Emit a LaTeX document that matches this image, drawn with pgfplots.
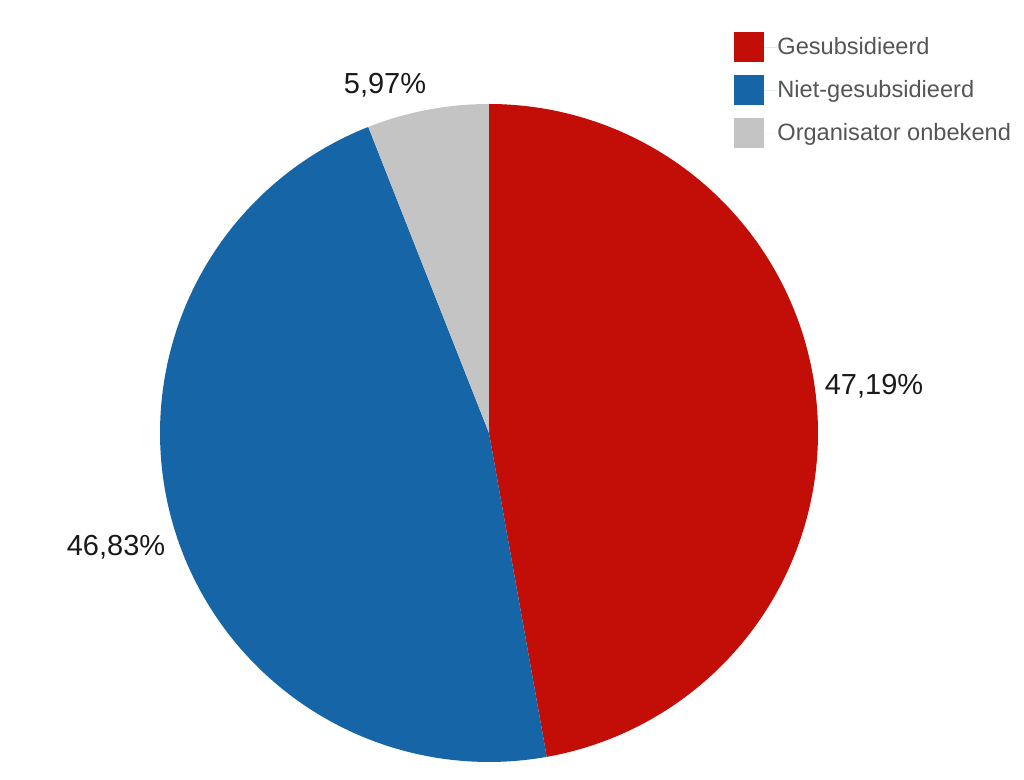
\documentclass[border=0pt]{standalone}
\usepackage{pgfplots}
\pgfplotsset{compat=1.18}
\usepackage{fontspec}
\setmainfont{Liberation Sans}
\definecolor{pred}{HTML}{C20E06}
\definecolor{pblue}{HTML}{1565A7}
\definecolor{pgrey}{HTML}{C4C4C4}
\definecolor{ltext}{HTML}{555555}
\def\vA{47.19}\def\vB{46.83}\def\vC{5.97}
\pgfmathsetmacro\aA{90}
\pgfmathsetmacro\aB{90-3.6*\vA}
\pgfmathsetmacro\aC{\aB-3.6*\vB}
\pgfmathsetmacro\aD{\aC-3.6*\vC}
\begin{document}
\begin{tikzpicture}
\begin{axis}[
  x=0.5pt, y=0.5pt, xmin=0, xmax=1024, ymin=0, ymax=780,
  hide axis, clip=false, scale only axis,
  legend style={at={(axis cs:734,748)}, anchor=north west, draw=none, fill=none,
    font=\fontsize{11.8}{14}\selectfont, text=ltext, row sep=6.5pt, inner sep=0pt,
    nodes={inner sep=0pt, anchor=west}},
  legend cell align=left,
  legend image code/.code={\fill[#1] (0pt,-7.5pt) rectangle (15pt,7.5pt);
    \path (0pt,0pt) -- (21.5pt,0pt);},
]
\path (rel axis cs:0,0) rectangle (rel axis cs:1,1);
\addplot[fill=pred, draw=none, domain=\aB:\aA, samples=150, variable=\t]
  ({489+329*cos(t)},{347+329*sin(t)}) -- (axis cs:489,347) -- cycle;
\addlegendentry{Gesubsidieerd}
\addplot[fill=pblue, draw=none, domain=\aC:\aB, samples=150, variable=\t]
  ({489+329*cos(t)},{347+329*sin(t)}) -- (axis cs:489,347) -- cycle;
\addlegendentry{Niet-gesubsidieerd}
\addplot[fill=pgrey, draw=none, domain=\aD:\aC, samples=40, variable=\t]
  ({489+329*cos(t)},{347+329*sin(t)}) -- (axis cs:489,347) -- cycle;
\addlegendentry{Organisator onbekend}
\node[font=\fontsize{14.5}{17}\selectfont, text=black!90] at (axis cs:874,394) {47,19\%};
\node[font=\fontsize{14.5}{17}\selectfont, text=black!90] at (axis cs:116,233) {46,83\%};
\node[font=\fontsize{14.5}{17}\selectfont, text=black!90] at (axis cs:385,695) {5,97\%};
\end{axis}
\end{tikzpicture}
\end{document}
